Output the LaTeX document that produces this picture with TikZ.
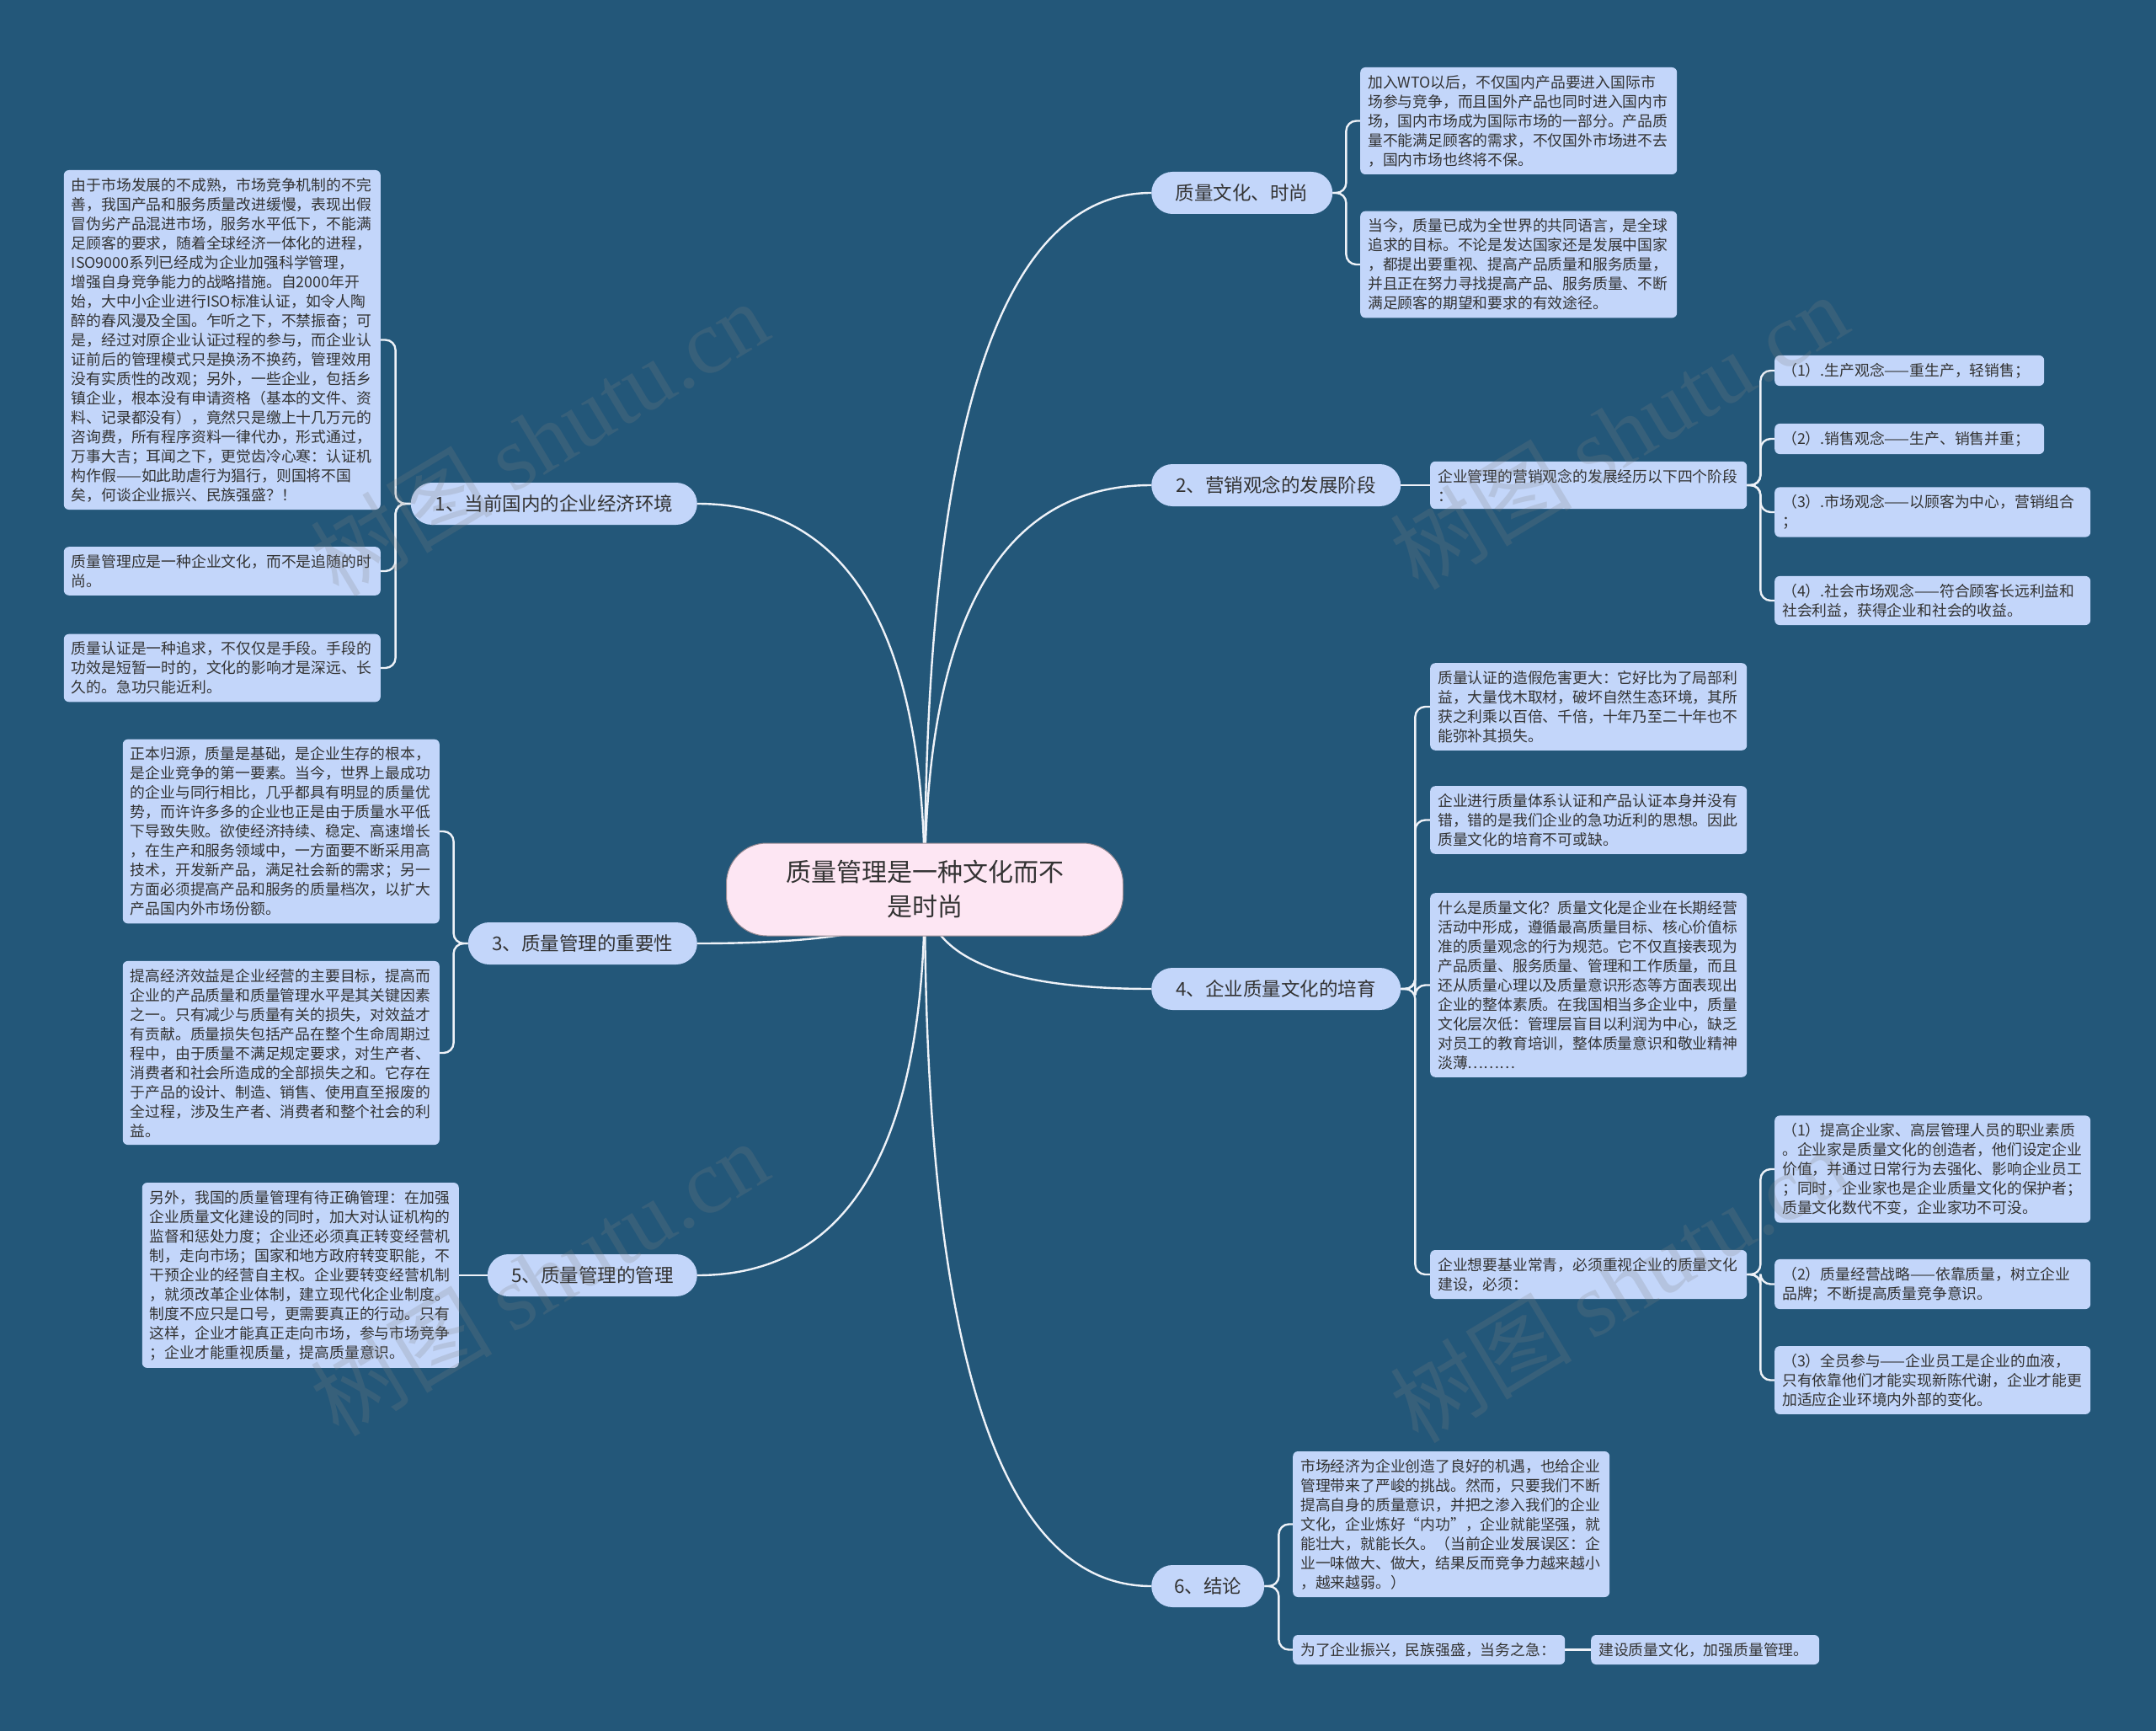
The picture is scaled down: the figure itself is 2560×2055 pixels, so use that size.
\documentclass[tikz,border=0pt]{standalone}
\usepackage{fontspec}
\setmainfont{Noto Sans CJK SC}
\newfontfamily\wmlatin{Liberation Serif}
\usetikzlibrary{calc}
\definecolor{bg}{HTML}{235779}
\definecolor{leaf}{HTML}{C3D6FA}
\definecolor{txt}{HTML}{333333}
\definecolor{hub}{HTML}{FDE6F3}
\definecolor{linkc}{HTML}{EEF2F8}
\pgfdeclarelayer{back}
\pgfdeclarelayer{lines}
\pgfsetlayers{back,lines,main}
\newcommand\hubline[2]{%
  \coordinate (q) at (c.center |- #1.#2);
  \draw[link] (c.center) .. controls ($(c.center)!0.6667!(q)$) and ($(#1.#2)!0.6667!(q)$) .. (#1.#2);}
\begin{document}
\begin{tikzpicture}[x=1pt,y=-1pt,
  leafbox/.style={fill=leaf, rounded corners=6pt, inner xsep=9pt, inner ysep=9pt, text width=358pt, align=left, font=\fontsize{17.8}{23}\selectfont, text=txt},
  subbox/.style={leafbox, text width=357pt},
  branch/.style={fill=leaf, rounded corners=25pt, minimum height=50pt, inner xsep=20pt, align=center, font=\fontsize{22.5}{27}\selectfont, text=txt},
  hubnode/.style={fill=hub, draw=hub!60!black, line width=1pt, rounded corners=48pt, minimum width=471pt, minimum height=110pt, align=center, font=\fontsize{30}{41}\selectfont, text=txt},
  link/.style={draw=linkc, line width=2.4pt},
  bracket/.style={link, rounded corners=12pt},
  wm/.style={text=gray, opacity=0.22, font=\fontsize{108}{108}\selectfont}
]
\useasboundingbox (0,0) rectangle (2560,2055);
\begin{pgfonlayer}{back}
\fill[bg] (0,0) rectangle (2560,2055);
\end{pgfonlayer}

% central
\node[hubnode] (c) at (1098,1056) {质量管理是一种文化而不\\是时尚};

% branches
\node[branch, anchor=west, minimum width=215pt] (bq) at (1367,229) {质量文化、时尚};
\node[branch, anchor=west, minimum width=296pt] (b2) at (1367,576) {2、营销观念的发展阶段};
\node[branch, anchor=west, minimum width=296pt] (b4) at (1367,1174) {4、企业质量文化的培育};
\node[branch, anchor=west, minimum width=134pt] (b6) at (1367,1883) {6、结论};
\node[branch, anchor=east, minimum width=340pt] (b1) at (828,598) {1、当前国内的企业经济环境};
\node[branch, anchor=east, minimum width=272pt] (b3) at (828,1120) {3、质量管理的重要性};
\node[branch, anchor=east, minimum width=249pt] (b5) at (828,1514) {5、质量管理的管理};

% left leaves
\node[leafbox, anchor=east] (A) at (452,403.5) {由于市场发展的不成熟，市场竞争机制的不完\\善，我国产品和服务质量改进缓慢，表现出假\\冒伪劣产品混进市场，服务水平低下，不能满\\足顾客的要求，随着全球经济一体化的进程，\\ISO9000系列已经成为企业加强科学管理，\\增强自身竞争能力的战略措施。自2000年开\\始，大中小企业进行ISO标准认证，如令人陶\\醉的春风漫及全国。乍听之下，不禁振奋；可\\是，经过对原企业认证过程的参与，而企业认\\证前后的管理模式只是换汤不换药，管理效用\\没有实质性的改观；另外，一些企业，包括乡\\镇企业，根本没有申请资格（基本的文件、资\\料、记录都没有），竟然只是缴上十几万元的\\咨询费，所有程序资料一律代办，形式通过，\\万事大吉；耳闻之下，更觉齿冷心寒：认证机\\构作假——如此助虐行为猖行，则国将不国\\矣，何谈企业振兴、民族强盛？！};
\node[leafbox, anchor=east] (B) at (452,678) {质量管理应是一种企业文化，而不是追随的时\\尚。};
\node[leafbox, anchor=east] (C) at (452,793) {质量认证是一种追求，不仅仅是手段。手段的\\功效是短暂一时的，文化的影响才是深远、长\\久的。急功只能近利。};
\node[leafbox, anchor=east] (D) at (522,987) {正本归源，质量是基础，是企业生存的根本，\\是企业竞争的第一要素。当今，世界上最成功\\的企业与同行相比，几乎都具有明显的质量优\\势，而许许多多的企业也正是由于质量水平低\\下导致失败。欲使经济持续、稳定、高速增长\\，在生产和服务领域中，一方面要不断采用高\\技术，开发新产品，满足社会新的需求；另一\\方面必须提高产品和服务的质量档次，以扩大\\产品国内外市场份额。};
\node[leafbox, anchor=east] (E) at (522,1250) {提高经济效益是企业经营的主要目标，提高而\\企业的产品质量和质量管理水平是其关键因素\\之一。只有减少与质量有关的损失，对效益才\\有贡献。质量损失包括产品在整个生命周期过\\程中，由于质量不满足规定要求，对生产者、\\消费者和社会所造成的全部损失之和。它存在\\于产品的设计、制造、销售、使用直至报废的\\全过程，涉及生产者、消费者和整个社会的利\\益。};
\node[leafbox, anchor=east] (F) at (545,1514) {另外，我国的质量管理有待正确管理：在加强\\企业质量文化建设的同时，加大对认证机构的\\监督和惩处力度；企业还必须真正转变经营机\\制，走向市场；国家和地方政府转变职能，不\\干预企业的经营自主权。企业要转变经营机制\\，就须改革企业体制，建立现代化企业制度。\\制度不应只是口号，更需要真正的行动。只有\\这样，企业才能真正走向市场，参与市场竞争\\；企业才能重视质量，提高质量意识。};

% right leaves
\node[leafbox, anchor=west] (G) at (1615,143.5) {加入WTO以后，不仅国内产品要进入国际市\\场参与竞争，而且国外产品也同时进入国内市\\场，国内市场成为国际市场的一部分。产品质\\量不能满足顾客的需求，不仅国外市场进不去\\，国内市场也终将不保。};
\node[leafbox, anchor=west] (H) at (1615,314) {当今，质量已成为全世界的共同语言，是全球\\追求的目标。不论是发达国家还是发展中国家\\，都提出要重视、提高产品质量和服务质量，\\并且正在努力寻找提高产品、服务质量、不断\\满足顾客的期望和要求的有效途径。};
\node[leafbox, anchor=west] (I) at (1698,576) {企业管理的营销观念的发展经历以下四个阶段\\：};
\node[subbox, anchor=west, text width=302pt] (J1) at (2107,440) {（1）.生产观念——重生产，轻销售；};
\node[subbox, anchor=west, text width=302pt] (J2) at (2107,521) {（2）.销售观念——生产、销售并重；};
\node[subbox, anchor=west] (J3) at (2107,608) {（3）.市场观念——以顾客为中心，营销组合\\；};
\node[subbox, anchor=west] (J4) at (2107,713) {（4）.社会市场观念——符合顾客长远利益和\\社会利益，获得企业和社会的收益。};
\node[leafbox, anchor=west] (K1) at (1698,839) {质量认证的造假危害更大：它好比为了局部利\\益，大量伐木取材，破坏自然生态环境，其所\\获之利乘以百倍、千倍，十年乃至二十年也不\\能弥补其损失。};
\node[leafbox, anchor=west] (K2) at (1698,973.5) {企业进行质量体系认证和产品认证本身并没有\\错，错的是我们企业的急功近利的思想。因此\\质量文化的培育不可或缺。};
\node[leafbox, anchor=west] (K3) at (1698,1169.5) {什么是质量文化？质量文化是企业在长期经营\\活动中形成，遵循最高质量目标、核心价值标\\准的质量观念的行为规范。它不仅直接表现为\\产品质量、服务质量、管理和工作质量，而且\\还从质量心理以及质量意识形态等方面表现出\\企业的整体素质。在我国相当多企业中，质量\\文化层次低：管理层盲目以利润为中心，缺乏\\对员工的教育培训，整体质量意识和敬业精神\\淡薄………};
\node[leafbox, anchor=west] (K4) at (1698,1513) {企业想要基业常青，必须重视企业的质量文化\\建设，必须：};
\node[subbox, anchor=west] (L1) at (2107,1388) {（1）提高企业家、高层管理人员的职业素质\\。企业家是质量文化的创造者，他们设定企业\\价值，并通过日常行为去强化、影响企业员工\\；同时，企业家也是企业质量文化的保护者；\\质量文化数代不变，企业家功不可没。};
\node[subbox, anchor=west] (L2) at (2107,1524.5) {（2）质量经营战略——依靠质量，树立企业\\品牌；不断提高质量竞争意识。};
\node[subbox, anchor=west] (L3) at (2107,1638.5) {（3）全员参与——企业员工是企业的血液，\\只有依靠他们才能实现新陈代谢，企业才能更\\加适应企业环境内外部的变化。};
\node[leafbox, anchor=west] (M1) at (1535,1809.5) {市场经济为企业创造了良好的机遇，也给企业\\管理带来了严峻的挑战。然而，只要我们不断\\提高自身的质量意识，并把之渗入我们的企业\\文化，企业炼好“内功”，企业就能坚强，就\\能壮大，就能长久。（当前企业发展误区：企\\业一味做大、做大，结果反而竞争力越来越小\\，越来越弱。）};
\node[leafbox, anchor=west, text width=305pt] (M2) at (1535,1958.5) {为了企业振兴，民族强盛，当务之急：};
\node[leafbox, anchor=west, text width=253pt] (M3) at (1889,1958.5) {建设质量文化，加强质量管理。};

% connectors
\begin{pgfonlayer}{lines}
\hubline{bq}{west}
\hubline{b2}{west}
\hubline{b4}{west}
\hubline{b6}{west}
\hubline{b1}{east}
\hubline{b3}{east}
\hubline{b5}{east}
\foreach \ch in {A,B,C} \draw[bracket] (b1.west) -- ++(-18,0) |- (\ch.east);
\foreach \ch in {D,E} \draw[bracket] (b3.west) -- ++(-17,0) |- (\ch.east);
\draw[link] (b5.west) -- (F.east);
\foreach \ch in {G,H} \draw[bracket] (bq.east) -- ++(16,0) |- (\ch.west);
\draw[link] (b2.east) -- (I.west);
\foreach \ch in {J1,J2,J3,J4} \draw[bracket] (I.east) -- ++(16,0) |- (\ch.west);
\foreach \ch in {K1,K2,K3,K4} \draw[bracket] (b4.east) -- ++(17,0) |- (\ch.west);
\foreach \ch in {L1,L2,L3} \draw[bracket] (K4.east) -- ++(16,0) |- (\ch.west);
\foreach \ch in {M1,M2} \draw[bracket] (b6.east) -- ++(17,0) |- (\ch.west);
\draw[link] (M2.east) -- (M3.west);
\end{pgfonlayer}

% watermarks
\node[wm, rotate=31] (w1) at (640,520) {树图 {\wmlatin shutu.cn}};
\node[wm, rotate=31] (w2) at (1922,512) {树图 {\wmlatin shutu.cn}};
\node[wm, rotate=31] (w3) at (640,1517) {树图 {\wmlatin shutu.cn}};
\node[wm, rotate=31] (w4) at (1922,1525) {树图 {\wmlatin shutu.cn}};
\end{tikzpicture}
\end{document}
